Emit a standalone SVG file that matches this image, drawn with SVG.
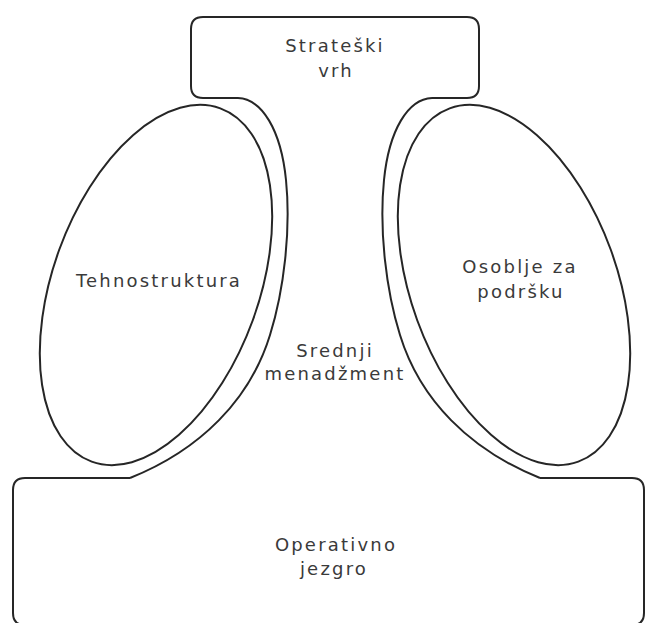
<svg xmlns="http://www.w3.org/2000/svg" width="645" height="623" viewBox="0 0 645 623">
  <style>
    .shape { fill: none; stroke: #262626; stroke-width: 2; stroke-linejoin: round; }
    .label { font-family: "DejaVu Sans", "Liberation Sans", sans-serif; font-size: 18px; fill: #3a3a3a; letter-spacing: 2.2px; text-anchor: middle; }
  </style>
  <rect width="645" height="623" fill="#ffffff"/>
  <g id="strateski-vrh">
    <path class="shape" d="M 238 98 H 203 Q 191 98 191 86 V 29 Q 191 17 203 17 H 467 Q 479 17 479 29 V 86 Q 479 98 467 98 H 432"/>
    <text class="label" x="335" y="52">Strateški</text>
    <text class="label" x="336" y="77">vrh</text>
  </g>
  <g id="tehnostruktura">
    <ellipse class="shape" cx="156" cy="285" rx="103" ry="188" transform="rotate(20 156 285)"/>
    <text class="label" x="159" y="287">Tehnostruktura</text>
  </g>
  <g id="osoblje-za-podrsku">
    <ellipse class="shape" cx="514" cy="285" rx="103" ry="188" transform="rotate(-20 514 285)"/>
    <text class="label" x="520" y="273">Osoblje za</text>
    <text class="label" x="521" y="298">podršku</text>
  </g>
  <g id="srednji-menadzment">
    <path class="shape" d="M 238 98 C 262 99, 281 130, 286 180 C 291 230, 284 290, 270 335 C 250 400, 200 450, 130 478"/>
    <path class="shape" d="M 432 98 C 408 99, 389 130, 384 180 C 379 230, 386 290, 400 335 C 420 400, 470 450, 540 478"/>
    <text class="label" x="335" y="357">Srednji</text>
    <text class="label" x="335" y="380">menadžment</text>
  </g>
  <g id="operativno-jezgro">
    <path class="shape" d="M 130 478 H 25 Q 13 478 13 490 V 613 Q 13 625 25 625 H 632 Q 644 625 644 613 V 490 Q 644 478 632 478 H 540"/>
    <text class="label" x="336" y="551">Operativno</text>
    <text class="label" x="334" y="575">jezgro</text>
  </g>
</svg>
